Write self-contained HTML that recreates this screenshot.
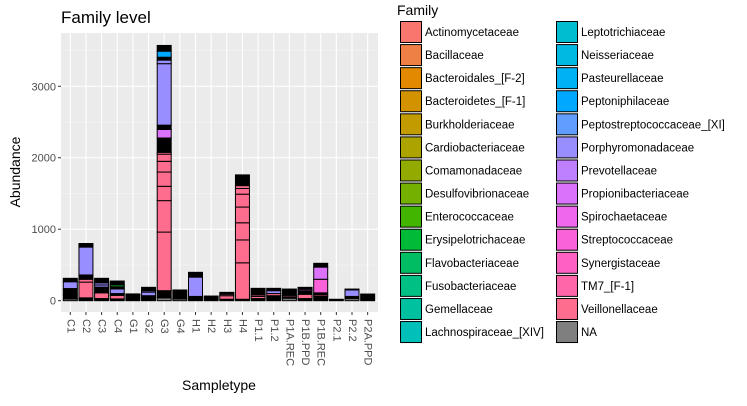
<!DOCTYPE html>
<html><head><meta charset="utf-8"><style>
body{margin:0;background:#fff;}
svg text{font-family:"Liberation Sans",sans-serif;}
</style></head><body>
<svg id="c" width="747" height="401" xmlns="http://www.w3.org/2000/svg">
<rect x="0" y="0" width="747" height="401" fill="#fff"/>
<text x="61" y="23" font-size="17" fill="#000">Family level</text>
<rect x="61" y="33" width="317" height="279" fill="#EBEBEB"/>
<g id="grid"></g><g id="bars"></g><g id="axes"></g><g id="legend"></g>
<text x="219" y="390" font-size="14" text-anchor="middle" fill="#000">Sampletype</text>
<text transform="translate(20,172) rotate(-90)" font-size="14" text-anchor="middle" fill="#000">Abundance</text>
</svg>
<script>
const categories=["C1","C2","C3","C4","G1","G2","G3","G4","H1","H2","H3","H4","P1.1","P1.2","P1A.REC","P1B.PPD","P1B.REC","P2.1","P2.2","P2A.PPD"];
const families=["Actinomycetaceae","Bacillaceae","Bacteroidales_[F-2]","Bacteroidetes_[F-1]","Burkholderiaceae","Cardiobacteriaceae","Comamonadaceae","Desulfovibrionaceae","Enterococcaceae","Erysipelotrichaceae","Flavobacteriaceae","Fusobacteriaceae","Gemellaceae","Lachnospiraceae_[XIV]","Leptotrichiaceae","Neisseriaceae","Pasteurellaceae","Peptoniphilaceae","Peptostreptococcaceae_[XI]","Porphyromonadaceae","Prevotellaceae","Propionibacteriaceae","Spirochaetaceae","Streptococcaceae","Synergistaceae","TM7_[F-1]","Veillonellaceae","NA"];
const yTicks=[0,1000,2000,3000];
// segment values (bottom to top) and family index (-1 = black/unresolved small taxa)
const segValues=[
[25,55,90,95,48],
[40,220,40,60,390,50],
[30,80,80,30,30,63],
[25,50,25,65,30,25,55],
[95],
[70,50,20,47],
[40,100,820,440,200,200,150,100,26,200,120,60,860,50,40,85,80],
[25,125],
[60,270,67],
[65],
[20,50,20,27],
[20,510,320,240,220,180,80,40,150],
[30,30,20,93],
[70,30,40,33],
[35,20,20,88],
[30,60,50,20,27],
[60,20,30,190,170,53],
[20],
[30,30,90,13],
[93]];
const segFamilies=[
[27,-1,-1,19,-1],
[-1,26,26,-1,19,-1],
[-1,26,-1,19,19,-1],
[-1,26,-1,19,-1,9,-1],
[-1],
[-1,19,19,-1],
[27,-1,26,26,26,26,26,26,26,-1,21,-1,19,19,-1,17,-1],
[27,-1],
[-1,19,-1],
[-1],
[-1,26,26,-1],
[-1,26,26,26,26,26,26,26,-1],
[-1,26,26,-1],
[-1,26,19,-1],
[27,-1,26,-1],
[-1,26,-1,21,-1],
[-1,26,-1,23,21,-1],
[-1],
[27,-1,19,-1],
[-1]];

function hcl(h,c,l){
 const Xn=95.047,Yn=100,Zn=108.883;
 const un=4*Xn/(Xn+15*Yn+3*Zn),vn=9*Yn/(Xn+15*Yn+3*Zn);
 const hr=h*Math.PI/180,u=c*Math.cos(hr),v=c*Math.sin(hr);
 const Y=Yn*Math.pow((l+16)/116,3);
 const up=u/(13*l)+un,vp=v/(13*l)+vn;
 const X=9*Y*up/(4*vp),Z=-X/3-5*Y+3*Y/vp;
 const x=X/100,y=Y/100,z=Z/100;
 let r=3.2404542*x-1.5371385*y-0.4985314*z,g=-0.9692660*x+1.8760108*y+0.0415560*z,b=0.0556434*x-0.2040259*y+1.0572252*z;
 const gm=t=>{t=t<=0.0031308?12.92*t:1.055*Math.pow(t,1/2.4)-0.055;return Math.round(Math.max(0,Math.min(1,t))*255);};
 return `rgb(${gm(r)},${gm(g)},${gm(b)})`;
}
const nF=families.length-1;
function famColor(i){ if(i<0) return "#000"; if(i===nF) return "#7F7F7F"; return hcl(15+i*360/nF,100,65); }

const NS="http://www.w3.org/2000/svg";
function el(tag,attrs,parent){const e=document.createElementNS(NS,tag);for(const k in attrs)e.setAttribute(k,attrs[k]);parent.appendChild(e);return e;}
const x0=70.3,dx=15.65,bw=14;
const xPos=i=>x0+i*dx;
const yPos=v=>300.7-v*0.07148;
const panel={l:61,r:378,t:33,b:312};
const grid=document.getElementById('grid'),bars=document.getElementById('bars'),axes=document.getElementById('axes'),legend=document.getElementById('legend');
for(let k=0;k<yTicks.length;k++){
 const vm=yTicks[k]+500;const ym=yPos(vm);
 if(ym>panel.t){const m=el('line',{x1:panel.l,x2:panel.r,y1:ym,y2:ym,stroke:'#F5F5F5','stroke-width':0.6},grid);
 
 }
}
yTicks.forEach(t=>{
 const y=yPos(t);
 const g=el('line',{x1:panel.l,x2:panel.r,y1:y,y2:y,stroke:'#fff','stroke-width':1.1},grid);
 
 
 el('line',{x1:panel.l-3,x2:panel.l,y1:y,y2:y,stroke:'#333','stroke-width':1},axes);
 const tx=el('text',{x:panel.l-5,y:y+4,'font-size':11,'text-anchor':'end',fill:'#4D4D4D'},axes);
 tx.textContent=t;
 
 
});
categories.forEach((c,i)=>{
 const x=xPos(i);
 const g=el('line',{x1:x,x2:x,y1:panel.t,y2:panel.b,stroke:'#fff','stroke-width':1.1},grid);
 
 
 el('line',{x1:x,x2:x,y1:panel.b,y2:panel.b+3,stroke:'#333','stroke-width':1},axes);
 const tx=el('text',{transform:`translate(${x-3},${panel.b+7}) rotate(90)`,'font-size':11,fill:'#4D4D4D'},axes);
 tx.textContent=c;
 
 
 let cum=0;
 segValues[i].forEach((v,j)=>{
  const yb=yPos(cum),yt=yPos(cum+v);cum+=v;
  const r=el('rect',{x:x-bw/2,y:yt,width:bw,height:Math.max(0.5,yb-yt),fill:famColor(segFamilies[i][j]),stroke:'#000','stroke-width':1},bars);
  
  
 });
});
const lt=el('text',{x:397,y:15,'font-size':14,fill:'#000'},legend);
lt.textContent='Family';


families.forEach((f,i)=>{
 const col=Math.floor(i/14),row=i%14;
 const kx=col?556:400,ky=21+row*23.08;
 const k=el('rect',{x:kx+0.5,y:ky+0.5,width:21,height:21,fill:famColor(i===nF?nF:i),stroke:'#000','stroke-width':1},legend);
 
 
 const t=el('text',{x:kx+25,y:ky+15,'font-size':11.5,fill:'#000'},legend);
 t.textContent=f;
 
 
});
</script>
</body></html>
